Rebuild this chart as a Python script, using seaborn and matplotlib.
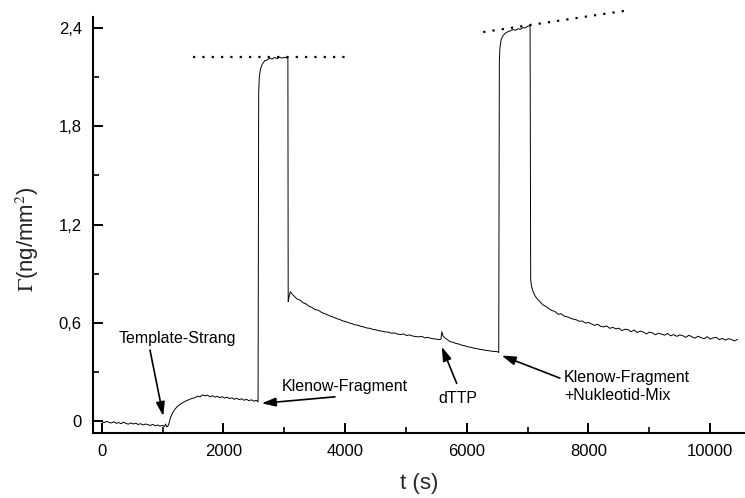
import numpy as np
import pandas as pd
import matplotlib
matplotlib.use("Agg")
import matplotlib.pyplot as plt
import seaborn as sns
from matplotlib.ticker import MultipleLocator, FixedLocator

# ---- data ----
t_baseline = [0, 40, 80, 120, 160, 200, 240, 280, 320, 360, 400, 440, 480, 520, 560, 600,
              640, 680, 720, 760, 800, 840, 880, 920, 960, 1000, 1030, 1050, 1070, 1090]
g_baseline = [-0.004, -0.010, -0.002, -0.008, -0.012, -0.004, -0.014, -0.009, -0.016, -0.006,
              -0.015, -0.019, -0.011, -0.018, -0.013, -0.021, -0.016, -0.024, -0.018, -0.022,
              -0.027, -0.020, -0.029, -0.024, -0.031, -0.026, -0.034, -0.018, -0.036, -0.030]

t_template = [1110, 1130, 1160, 1200, 1240, 1280, 1330, 1380, 1430, 1480, 1530, 1580, 1620,
              1660, 1700, 1740, 1780, 1820, 1860, 1900, 1940, 1980, 2020, 2060, 2100, 2140,
              2180, 2220, 2260, 2300, 2340, 2380, 2420, 2460, 2500, 2540, 2570]
g_template = [-0.010, 0.020, 0.045, 0.070, 0.088, 0.100, 0.112, 0.122, 0.130, 0.138, 0.142,
              0.152, 0.148, 0.160, 0.154, 0.158, 0.148, 0.155, 0.146, 0.151, 0.143, 0.149,
              0.140, 0.146, 0.137, 0.142, 0.133, 0.139, 0.131, 0.136, 0.127, 0.133, 0.124,
              0.130, 0.121, 0.127, 0.117]

t_peak1 = [2580, 2590, 2610, 2640, 2680, 2720, 2760, 2800, 2840, 2880, 2920, 2960, 3000, 3040, 3060]
g_peak1 = [2.00, 2.10, 2.15, 2.18, 2.20, 2.205, 2.215, 2.21, 2.22, 2.213, 2.222, 2.216, 2.221,
           2.217, 2.22]

t_klenow = [3065, 3080, 3100, 3130, 3170, 3210, 3260, 3310, 3360, 3410, 3460, 3510, 3560, 3610,
            3660, 3710, 3760, 3810, 3860, 3910, 3960, 4010, 4060, 4110, 4160, 4210, 4260, 4310,
            4360, 4410, 4460, 4510, 4560, 4610, 4660, 4710, 4760, 4810, 4860, 4910, 4960, 5010,
            5060, 5110, 5160, 5210, 5260, 5310, 5360, 5410, 5460, 5510, 5550, 5575, 5590, 5610,
            5640, 5680, 5720, 5770, 5820, 5870, 5920, 5970, 6020, 6070, 6120, 6170, 6220, 6270,
            6320, 6370, 6420, 6470, 6510, 6525]
g_klenow = [0.73, 0.76, 0.79, 0.775, 0.76, 0.745, 0.738, 0.722, 0.715, 0.70, 0.693, 0.68, 0.677,
            0.664, 0.656, 0.649, 0.640, 0.634, 0.626, 0.620, 0.612, 0.607, 0.600, 0.595, 0.588,
            0.585, 0.578, 0.574, 0.568, 0.566, 0.559, 0.557, 0.551, 0.549, 0.544, 0.543, 0.536,
            0.538, 0.531, 0.528, 0.532, 0.522, 0.526, 0.519, 0.516, 0.514, 0.517, 0.508, 0.511,
            0.505, 0.502, 0.500, 0.497, 0.500, 0.545, 0.52, 0.508, 0.497, 0.486, 0.481, 0.474,
            0.470, 0.463, 0.459, 0.453, 0.450, 0.445, 0.442, 0.437, 0.435, 0.431, 0.429, 0.426,
            0.424, 0.423, 0.418]

t_peak2 = [6535, 6545, 6565, 6600, 6640, 6680, 6720, 6760, 6800, 6840, 6880, 6920, 6960, 7000, 7040]
g_peak2 = [2.20, 2.28, 2.33, 2.355, 2.37, 2.378, 2.383, 2.39, 2.386, 2.395, 2.392, 2.402, 2.40,
           2.41, 2.415]

t_mix = [7050, 7065, 7090, 7120, 7160, 7200, 7250, 7300, 7350, 7400, 7450, 7500, 7550, 7600,
         7650, 7700, 7750, 7800, 7850, 7900, 7950, 8000, 8050, 8100, 8150, 8200, 8250, 8300,
         8350, 8400, 8450, 8500, 8550, 8600, 8650, 8700, 8750, 8800, 8850, 8900, 8950, 9000,
         9050, 9100, 9150, 9200, 9250, 9300, 9350, 9400, 9450, 9500, 9550, 9600, 9650, 9700,
         9750, 9800, 9850, 9900, 9950, 10000, 10050, 10100, 10150, 10200, 10250, 10300, 10350,
         10400, 10450]
g_mix = [0.86, 0.82, 0.79, 0.765, 0.745, 0.73, 0.71, 0.70, 0.686, 0.675, 0.669, 0.652, 0.655,
         0.641, 0.636, 0.629, 0.622, 0.618, 0.609, 0.611, 0.598, 0.602, 0.593, 0.584, 0.591,
         0.578, 0.575, 0.581, 0.566, 0.572, 0.563, 0.567, 0.552, 0.561, 0.558, 0.545, 0.556,
         0.54, 0.549, 0.544, 0.532, 0.543, 0.538, 0.527, 0.536, 0.531, 0.524, 0.535, 0.52,
         0.528, 0.517, 0.526, 0.521, 0.511, 0.524, 0.514, 0.506, 0.518, 0.509, 0.503, 0.515,
         0.50, 0.508, 0.511, 0.497, 0.505, 0.494, 0.503, 0.498, 0.489, 0.499]

plateau1_x = [1500, 4000]
plateau1_y = [2.225, 2.225]
plateau2_x = [6270, 8600]
plateau2_y = [2.375, 2.505]

x_ticks = [0, 2000, 4000, 6000, 8000, 10000]
x_ticklabels = ["0", "2000", "4000", "6000", "8000", "10000"]
y_ticks = [0, 0.6, 1.2, 1.8, 2.4]
y_ticklabels = ["0", "0,6", "1,2", "1,8", "2,4"]

# label text, text position, arrow tail, arrow head
labels = ["Template-Strang", "Klenow-Fragment", "dTTP", "Klenow-Fragment\n+Nukleotid-Mix"]
label_x = [1240, 3990, 5855, 7597]
label_y = [0.507, 0.214, 0.14, 0.21]
label_ha = ["center", "center", "center", "left"]
arrow_tail = [(794, 0.433), (3834, 0.148), (5834, 0.23), (7530, 0.262)]
arrow_head = [(1012, 0.03), (2629, 0.108), (5588, 0.454), (6573, 0.40)]

# ---- figure ----
sns.set_theme(style="ticks")
plt.rcParams["font.family"] = ["Liberation Sans", "DejaVu Sans"]
plt.rcParams["mathtext.fontset"] = "stix"

fig = plt.figure(figsize=(7.45, 4.98), dpi=100)
ax = fig.add_axes([0.1248, 0.1305, 0.8752, 0.8354])

time = t_baseline + t_template + t_peak1 + t_klenow + t_peak2 + t_mix
gamma = g_baseline + g_template + g_peak1 + g_klenow + g_peak2 + g_mix
df = pd.DataFrame({"t": time, "gamma": gamma})
sns.lineplot(data=df, x="t", y="gamma", ax=ax, color="black", linewidth=0.7,
             estimator=None, sort=False)

for xs, ys in [(plateau1_x, plateau1_y), (plateau2_x, plateau2_y)]:
    ax.plot(xs, ys, color="black", linewidth=1.6, linestyle=(0, (1, 3.2)),
            dash_capstyle="butt", clip_on=False)

ax.set_xlim(-143, 10572)
ax.set_ylim(-0.073, 2.467)
ax.xaxis.set_major_locator(FixedLocator(x_ticks))
ax.set_xticklabels(x_ticklabels)
ax.xaxis.set_minor_locator(MultipleLocator(1000))
ax.yaxis.set_major_locator(FixedLocator(y_ticks))
ax.set_yticklabels(y_ticklabels)
ax.yaxis.set_minor_locator(MultipleLocator(0.3))

ax.tick_params(which="major", direction="in", length=7, width=1.4, labelsize=12,
               colors="black", pad=8)
ax.tick_params(which="minor", direction="in", length=4, width=1.4)
for s in ["top", "right"]:
    ax.spines[s].set_visible(False)
for s in ["left", "bottom"]:
    ax.spines[s].set_linewidth(1.5)
    ax.spines[s].set_color("black")

ax.set_xlabel("t (s)", fontsize=16, labelpad=10)
ax.set_ylabel(r"$\Gamma$(ng/mm$^2$)", fontsize=16)
ax.yaxis.set_label_coords(-0.08, 0.465)

for text, tx, ty, ha in zip(labels, label_x, label_y, label_ha):
    ax.text(tx, ty, text, ha=ha, va="center", fontsize=11.5, linespacing=1.3,
            color="black")
for tail, head in zip(arrow_tail, arrow_head):
    ax.annotate("", xy=head, xytext=tail,
                arrowprops=dict(arrowstyle="-|>,head_length=0.7,head_width=0.22",
                                color="black", lw=1.2, shrinkA=0, shrinkB=0))

fig.savefig("out.png", dpi=100, facecolor="white")
